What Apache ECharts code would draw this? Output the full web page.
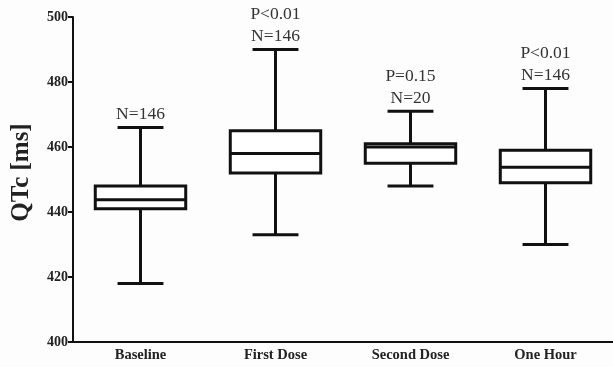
<!DOCTYPE html>
<html>
<head>
<meta charset="utf-8">
<script src="https://cdn.jsdelivr.net/npm/echarts@6/dist/echarts.min.js"></script>
<style>
  html, body { margin: 0; padding: 0; background: #fdfdfd; }
  #chart { width: 613px; height: 367px; }
</style>
</head>
<body>
<div id="chart"></div>
<script>
const categories = ['Baseline', 'First Dose', 'Second Dose', 'One Hour'];
const whiskerLow = [418, 433, 448, 430];
const q1 = [441, 452, 455, 449];
const median = [443.8, 458, 460, 453.8];
const q3 = [448, 465, 461, 459];
const whiskerHigh = [466, 490, 471, 478];
const pLabels = ['', 'P<0.01', 'P=0.15', 'P<0.01'];
const nLabels = ['N=146', 'N=146', 'N=20', 'N=146'];

const font = '"Liberation Serif", "Times New Roman", serif';

const boxData = categories.map((c, i) => [i, whiskerLow[i], q1[i], median[i], q3[i], whiskerHigh[i]]);

const chart = echarts.init(document.getElementById('chart'));

function renderBox(params, api) {
  const i = api.value(0);
  const band = api.size([1, 0])[0];
  const boxW = band * 0.67;
  const capW = band * 0.34;
  const pLow = api.coord([i, api.value(1)]);
  const pQ1 = api.coord([i, api.value(2)]);
  const pMed = api.coord([i, api.value(3)]);
  const pQ3 = api.coord([i, api.value(4)]);
  const pHigh = api.coord([i, api.value(5)]);
  const cx = pMed[0];
  const stroke = { stroke: '#111', lineWidth: 3, fill: null };
  const label = (pLabels[i] ? pLabels[i] + '\n' : '') + nLabels[i];
  return {
    type: 'group',
    children: [
      { type: 'line', shape: { x1: cx, y1: pHigh[1], x2: cx, y2: pQ3[1] }, style: stroke },
      { type: 'line', shape: { x1: cx, y1: pQ1[1], x2: cx, y2: pLow[1] }, style: stroke },
      { type: 'line', shape: { x1: cx - capW / 2, y1: pHigh[1], x2: cx + capW / 2, y2: pHigh[1] }, style: stroke },
      { type: 'line', shape: { x1: cx - capW / 2, y1: pLow[1], x2: cx + capW / 2, y2: pLow[1] }, style: stroke },
      { type: 'rect', shape: { x: cx - boxW / 2, y: pQ3[1], width: boxW, height: pQ1[1] - pQ3[1] }, style: { stroke: '#111', lineWidth: 3, fill: '#fff' } },
      { type: 'line', shape: { x1: cx - boxW / 2, y1: pMed[1], x2: cx + boxW / 2, y2: pMed[1] }, style: stroke },
      {
        type: 'text',
        style: {
          text: label, x: cx, y: pHigh[1] - 2,
          align: 'center', verticalAlign: 'bottom',
          font: '17.5px ' + font, lineHeight: 22, fill: '#333'
        }
      }
    ]
  };
}

chart.setOption({
  backgroundColor: '#fdfdfd',
  animation: false,
  grid: { left: 73, right: 0, top: 17, bottom: 25 },
  xAxis: {
    type: 'category',
    data: categories,
    axisLine: { lineStyle: { color: '#111', width: 2 } },
    axisTick: { alignWithLabel: true, length: 4, lineStyle: { color: '#111', width: 2 } },
    axisLabel: { color: '#222', fontFamily: font, fontWeight: 'bold', fontSize: 14.5, margin: 6 }
  },
  yAxis: {
    type: 'value',
    min: 400, max: 500, interval: 20,
    name: 'QTc [ms]',
    nameLocation: 'middle',
    nameGap: 39,
    nameTextStyle: { color: '#222', fontFamily: font, fontWeight: 'bold', fontSize: 25, padding: [0, 0, 0, 14] },
    splitLine: { show: false },
    axisLine: { show: true, lineStyle: { color: '#111', width: 2 } },
    axisTick: { show: true, length: 5, lineStyle: { color: '#111', width: 2 } },
    axisLabel: { color: '#222', fontFamily: font, fontWeight: 'bold', fontSize: 14, margin: 5 }
  },
  series: [{
    type: 'custom',
    data: boxData,
    encode: { x: 0, y: [1, 2, 3, 4, 5] },
    renderItem: renderBox
  }]
});
</script>
</body>
</html>
